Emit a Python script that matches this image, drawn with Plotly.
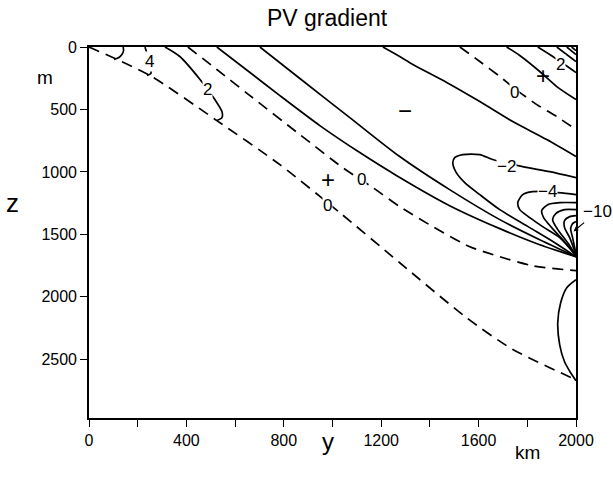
import plotly.graph_objects as go

# ---- contour traces: y (km) and z (m) ----
dashA_km = [0, 250, 525, 784, 1030, 1276, 1551, 1736, 2000]
dashA_m = [0, 228, 589, 942, 1326, 1727, 2168, 2416, 2664]

dashB_km = [406, 525, 661, 866, 1042, 1166, 1276, 1412, 1564, 1687, 1822, 2000]
dashB_m = [0, 180, 389, 701, 966, 1126, 1278, 1438, 1599, 1679, 1751, 1791]

dashC_km = [1523, 1605, 1687, 1748, 1839, 1921, 2000]
dashC_m = [0, 116, 236, 333, 461, 557, 661]

arc0_km = [140, 142, 135, 123, 103]
arc0_m = [0, 28, 60, 84, 100]

arc4_km = [230, 238, 250, 254, 254, 238]
arc4_m = [0, 52, 116, 180, 212, 228]

arc2_km = [312, 373, 456, 517, 546, 546, 525]
arc2_m = [0, 76, 260, 421, 517, 565, 589]

s1_km = [525, 661, 784, 948, 1112, 1264, 1481, 1687, 1851, 2000]
s1_m = [0, 204, 389, 629, 845, 1030, 1270, 1454, 1583, 1679]

s2_km = [702, 866, 1071, 1276, 1481, 1687, 1851, 2000]
s2_m = [0, 252, 565, 877, 1142, 1382, 1543, 1679]

s3_km = [1207, 1276, 1330, 1469, 1605, 1740, 1880, 2000]
s3_m = [0, 76, 140, 284, 437, 597, 741, 877]

s4_km = [1715, 1769, 1851, 1921, 2000]
s4_m = [0, 68, 196, 317, 421]

s5_km = [1843, 1892, 1941, 2000]
s5_m = [0, 60, 124, 204]

c1_km = [1921, 2000]
c1_m = [0, 116]
c2_km = [1962, 2000]
c2_m = [0, 60]
c3_km = [1982, 2000]
c3_m = [0, 28]

neg2_km = [2000, 1892, 1781, 1658, 1605, 1535, 1502, 1494, 1506, 1543, 1605, 1687, 1810, 1913, 2000]
neg2_m = [1046, 998, 958, 901, 861, 861, 885, 925, 998, 1086, 1182, 1302, 1446, 1567, 1679]

neg4_km = [2000, 1884, 1822, 1781, 1761, 1769, 1810, 1863, 1933, 2000]
neg4_m = [1182, 1158, 1158, 1182, 1246, 1302, 1366, 1438, 1526, 1671]

neg6_km = [2000, 1933, 1884, 1859, 1867, 1900, 1953, 2000]
neg6_m = [1246, 1246, 1262, 1310, 1366, 1446, 1559, 1671]

neg8_km = [2000, 1953, 1917, 1904, 1925, 1966, 2000]
neg8_m = [1302, 1302, 1334, 1382, 1462, 1567, 1671]

neg10_km = [2000, 1974, 1953, 1953, 1974, 2000]
neg10_m = [1350, 1358, 1390, 1446, 1526, 1663]

neg12_km = [2000, 1986, 1978, 1986, 2000]
neg12_m = [1398, 1414, 1454, 1526, 1655]

arcB_km = [2000, 1962, 1937, 1925, 1933, 1953, 1978, 2000]
arcB_m = [1863, 1927, 2047, 2208, 2384, 2520, 2608, 2672]

solid_lines = [(arc0_km, arc0_m), (arc4_km, arc4_m), (arc2_km, arc2_m),
               (s1_km, s1_m), (s2_km, s2_m), (s3_km, s3_m), (s4_km, s4_m),
               (s5_km, s5_m), (c1_km, c1_m), (c2_km, c2_m), (c3_km, c3_m),
               (neg2_km, neg2_m), (neg4_km, neg4_m), (neg6_km, neg6_m),
               (neg8_km, neg8_m), (neg10_km, neg10_m), (neg12_km, neg12_m),
               (arcB_km, arcB_m)]
dashed_lines = [(dashA_km, dashA_m), (dashB_km, dashB_m), (dashC_km, dashC_m)]

# contour labels: text, y (km), z (m)
label_text = ["4", "2", "0", "0", "0", "2", "\u22122", "\u22124"]
label_km = [250, 488, 1120, 981, 1748, 1937, 1715, 1884]
label_m = [116, 341, 1062, 1272, 365, 140, 958, 1158]

sign_text = ["+", "\u2212", "+"]
sign_km = [981, 1297, 1863]
sign_m = [1062, 509, 228]

xticks = [0, 200, 400, 600, 800, 1000, 1200, 1400, 1600, 1800, 2000]
xticktext = ["0", "", "400", "", "800", "", "1200", "", "1600", "", "2000"]
yticks = [0, 500, 1000, 1500, 2000, 2500]
yticktext = ["0", "500", "1000", "1500", "2000", "2500"]

FONT = "Liberation Sans, Arial, Helvetica, sans-serif"

fig = go.Figure()
for xs, ys in solid_lines:
    fig.add_trace(go.Scatter(x=xs, y=ys, mode="lines",
                             line=dict(color="black", width=1.7, shape="spline", smoothing=0.7),
                             showlegend=False, hoverinfo="skip"))
for xs, ys in dashed_lines:
    fig.add_trace(go.Scatter(x=xs, y=ys, mode="lines",
                             line=dict(color="black", width=1.7, dash="11px,7px", shape="spline", smoothing=0.7),
                             showlegend=False, hoverinfo="skip"))

ann = []
for t, xk, ym in zip(label_text, label_km, label_m):
    ann.append(dict(x=xk, y=ym, xref="x", yref="y", text=t, showarrow=False,
                    xanchor="center", yanchor="middle",
                    font=dict(family=FONT, size=17, color="black"),
                    bgcolor="white", borderpad=0))
for t, xk, ym in zip(sign_text, sign_km, sign_m):
    ann.append(dict(x=xk, y=ym, xref="x", yref="y", text=t, showarrow=False,
                    xanchor="center", yanchor="middle",
                    font=dict(family=FONT, size=24, color="black")))
# -10 label with arrow
ann.append(dict(x=1990, y=1476, xref="x", yref="y", ax=2088, ay=1318, axref="x", ayref="y",
                text="\u221210", showarrow=True, arrowhead=2, arrowsize=0.8, arrowwidth=1.2,
                arrowcolor="black", standoff=0,
                font=dict(family=FONT, size=17, color="black")))


def paper_text(txt, x, y, size):
    return dict(x=x, y=y, xref="paper", yref="paper", text=txt, showarrow=False,
                xanchor="center", yanchor="middle",
                font=dict(family=FONT, size=size, color="black"))


ann.append(paper_text("PV gradient", 0.49, 1.078, 23))
ann.append(paper_text("y", 0.49, -0.062, 24))
ann.append(paper_text("km", 0.901, -0.092, 19))
ann.append(paper_text("m", -0.090, 0.918, 19))
ann.append(paper_text("z", -0.158, 0.58, 26))

fig.update_layout(
    width=613, height=478,
    margin=dict(l=89, r=37, t=47, b=60),
    paper_bgcolor="white", plot_bgcolor="white",
    showlegend=False,
    annotations=ann,
    xaxis=dict(range=[0, 2000], tickvals=xticks, ticktext=xticktext, ticks="outside",
               ticklen=7, tickwidth=1.3, tickcolor="black", showline=True, mirror=True,
               linecolor="black", linewidth=1.6, showgrid=False, zeroline=False,
               tickfont=dict(family=FONT, size=16, color="black")),
    yaxis=dict(range=[2970, 0], tickvals=yticks, ticktext=yticktext, ticks="outside",
               ticklen=7, tickwidth=1.3, tickcolor="black", showline=True, mirror=True,
               linecolor="black", linewidth=1.6, showgrid=False, zeroline=False,
               tickfont=dict(family=FONT, size=16, color="black")),
)
fig.write_html("out.html")
